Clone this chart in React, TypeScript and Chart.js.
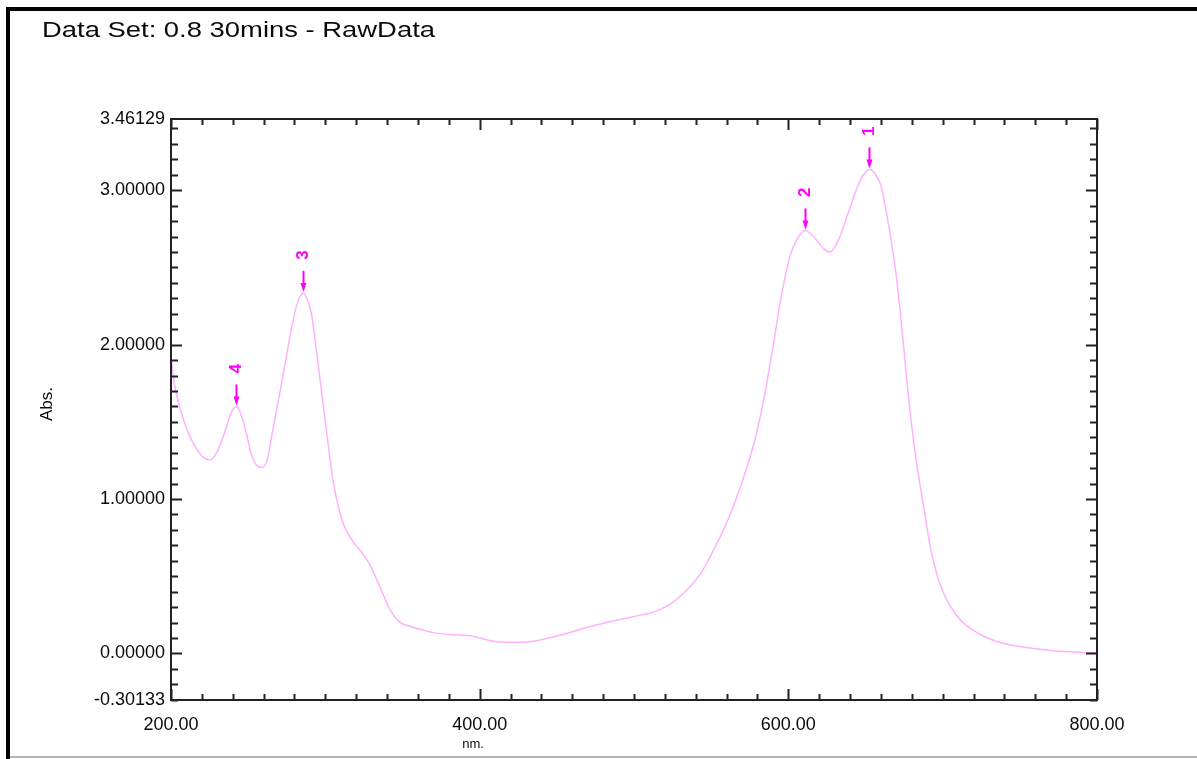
import React, { useEffect, useRef } from 'react';
import { Chart, registerables } from 'chart.js';

Chart.register(...registerables);

// ---- data ----
const titleText = 'Data Set: 0.8 30mins - RawData';
const xAxisTitle = 'nm.';
const yAxisTitle = 'Abs.';

const wavelengths = [
  200, 202, 205, 209, 213, 217, 221, 225, 229, 233, 236, 239, 242.5, 246, 249, 252, 255, 258.3,
  262, 266, 270, 274, 278, 281, 283.5, 285.5, 288, 291, 295, 300, 305, 308, 311.5, 315, 319, 324,
  329, 333.5, 338, 342, 348, 355, 362, 370, 380, 394, 402, 410, 420, 433, 445, 457, 470, 489, 500,
  510, 518, 525, 531, 537, 544, 551, 558, 565, 573, 579, 584, 590, 595, 601, 605.5, 611, 618, 623, 627, 633, 638,
  644, 648, 652.5, 656, 660, 664, 667, 670.5, 674, 677, 680, 683.5, 688, 692, 695, 698, 702, 706, 710, 715, 720,
  727, 735, 750, 770, 790, 800,
];
const absorbance = [
  1.92, 1.76, 1.62, 1.49, 1.39, 1.32, 1.27, 1.253, 1.29, 1.38, 1.47, 1.56, 1.6, 1.53, 1.42, 1.29, 1.225, 1.205,
  1.24, 1.45, 1.66, 1.88, 2.1, 2.24, 2.31, 2.335, 2.3, 2.2, 1.9, 1.5, 1.12, 0.97, 0.845, 0.77, 0.71, 0.65,
  0.57, 0.475, 0.37, 0.28, 0.205, 0.175, 0.155, 0.135, 0.123, 0.115, 0.095, 0.077, 0.072, 0.076, 0.1, 0.132, 0.17, 0.216, 0.24,
  0.26, 0.29, 0.33, 0.38, 0.44, 0.53, 0.66, 0.8, 0.97, 1.2, 1.41, 1.64, 1.98, 2.29, 2.57, 2.68, 2.74, 2.68, 2.62, 2.6, 2.69, 2.83,
  3.0, 3.09, 3.135, 3.11, 3.03, 2.83, 2.65, 2.4, 2.06, 1.75, 1.47, 1.21, 0.93, 0.69, 0.56, 0.455, 0.36, 0.29, 0.235, 0.185, 0.15,
  0.11, 0.078, 0.045, 0.02, 0.007, 0.004,
];

const peakLabels = ['1', '2', '3', '4'];
const peakNm = [652.3, 610.8, 285.3, 242.4];
const peakAbs = [3.135, 2.74, 2.335, 1.6];

const xMin = 200;
const xMax = 800;
const xLabelTicks = [200, 400, 600, 800];
const xMinorStep = 20;
const yMin = -0.30133;
const yMax = 3.46129;
const yLabelTicks = [-0.30133, 0, 1, 2, 3, 3.46129];
const yMinorStep = 0.1;

const FONT = '"Liberation Sans", Arial, Helvetica, sans-serif';
const AXIS_COLOR = '#222222';
const TEXT_COLOR = '#0a0a0a';
const PEAK_COLOR = '#ff00ff';
const LINE_COLOR = '#ffb0ff';

const decorPlugin = {
  id: 'decor',
  beforeDraw(chart: any) {
    const { ctx, width, height } = chart;
    ctx.save();
    ctx.fillStyle = '#ffffff';
    ctx.fillRect(0, 0, width, height);
    ctx.restore();
  },
  afterDraw(chart: any) {
    const { ctx, chartArea } = chart;
    const { left, right, top, bottom } = chartArea;
    const xs = chart.scales.x;
    const ys = chart.scales.y;
    ctx.save();

    // outer window frame
    ctx.fillStyle = '#000000';
    ctx.fillRect(6, 7, chart.width - 6, 4);
    ctx.fillRect(6, 7, 4, chart.height - 7);
    ctx.fillStyle = '#b4b4b4';
    ctx.fillRect(10, 756, chart.width - 10, 2);

    // title (stretched to the reference's width)
    ctx.fillStyle = TEXT_COLOR;
    ctx.font = `22px ${FONT}`;
    ctx.textAlign = 'left';
    ctx.textBaseline = 'alphabetic';
    const tw = ctx.measureText(titleText).width;
    ctx.save();
    ctx.translate(42, 37);
    ctx.scale(393 / tw, 1);
    ctx.fillText(titleText, 0, 0);
    ctx.restore();

    // plot box
    ctx.strokeStyle = AXIS_COLOR;
    ctx.lineWidth = 2;
    ctx.strokeRect(left, top, right - left, bottom - top);

    // inward tick marks
    ctx.beginPath();
    const nx = Math.round((xMax - xMin) / xMinorStep);
    for (let i = 0; i <= nx; i++) {
      const v = xMin + i * xMinorStep;
      const px = Math.round(xs.getPixelForValue(v)) + 0.5;
      const major = xLabelTicks.includes(v);
      const len = major ? 11 : 6;
      ctx.moveTo(px, bottom);
      ctx.lineTo(px, bottom - len);
      ctx.moveTo(px, top);
      ctx.lineTo(px, top + len);
    }
    const k0 = Math.ceil(yMin / yMinorStep - 1e-9);
    const k1 = Math.floor(yMax / yMinorStep + 1e-9);
    for (let k = k0; k <= k1; k++) {
      const v = k * yMinorStep;
      const py = Math.round(ys.getPixelForValue(v)) + 0.5;
      const major = k % 10 === 0;
      const len = major ? 11 : 7;
      ctx.moveTo(left, py);
      ctx.lineTo(left + len, py);
      ctx.moveTo(right, py);
      ctx.lineTo(right - len, py);
    }
    ctx.lineWidth = 2;
    ctx.stroke();

    // axis titles
    ctx.fillStyle = TEXT_COLOR;
    ctx.font = `13px ${FONT}`;
    ctx.textAlign = 'center';
    ctx.textBaseline = 'middle';
    ctx.fillText(xAxisTitle, 473, 744);
    ctx.save();
    ctx.translate(47, 404);
    ctx.rotate(-Math.PI / 2);
    ctx.font = `17px ${FONT}`;
    ctx.fillText(yAxisTitle, 0, 0);
    ctx.restore();

    // peak markers
    ctx.strokeStyle = PEAK_COLOR;
    ctx.fillStyle = PEAK_COLOR;
    for (let i = 0; i < peakLabels.length; i++) {
      const px = Math.round(xs.getPixelForValue(peakNm[i])) + 0.5;
      const py = ys.getPixelForValue(peakAbs[i]);
      ctx.lineWidth = 2;
      ctx.beginPath();
      ctx.moveTo(px, py - 22);
      ctx.lineTo(px, py - 4);
      ctx.stroke();
      ctx.beginPath();
      ctx.moveTo(px - 3, py - 10);
      ctx.lineTo(px + 3, py - 10);
      ctx.lineTo(px, py - 1);
      ctx.closePath();
      ctx.fill();
      ctx.save();
      ctx.translate(px, py - 38);
      ctx.rotate(-Math.PI / 2);
      ctx.font = `bold 17px ${FONT}`;
      ctx.textAlign = 'center';
      ctx.textBaseline = 'middle';
      ctx.fillText(peakLabels[i], 0, 0);
      ctx.restore();
    }

    ctx.restore();
  },
};

export default function App() {
  const ref = useRef<HTMLCanvasElement>(null);
  useEffect(() => {
    document.body.style.margin = '0';
    const points = wavelengths.map((w, i) => ({ x: w, y: absorbance[i] }));
    const chart = new Chart(ref.current as HTMLCanvasElement, {
      type: 'line',
      data: {
        datasets: [
          {
            data: points,
            borderColor: LINE_COLOR,
            borderWidth: 1.5,
            pointRadius: 0,
            fill: false,
            cubicInterpolationMode: 'monotone',
          },
        ],
      },
      options: {
        responsive: false,
        animation: false,
        devicePixelRatio: 1,
        layout: { padding: { top: 119, right: 100, left: 0, bottom: 0 } },
        plugins: { legend: { display: false }, tooltip: { enabled: false }, title: { display: false } },
        scales: {
          x: {
            type: 'linear',
            min: xMin,
            max: xMax,
            afterBuildTicks: (s: any) => {
              s.ticks = xLabelTicks.map((v) => ({ value: v }));
            },
            afterFit: (s: any) => {
              s.height = 59;
            },
            ticks: {
              autoSkip: false,
              maxRotation: 0,
              padding: 14,
              color: TEXT_COLOR,
              font: { family: FONT, size: 18 },
              callback: (v: any) => Number(v).toFixed(2),
            },
            grid: { display: false, drawTicks: false },
            border: { display: false },
          },
          y: {
            type: 'linear',
            min: yMin,
            max: yMax,
            afterBuildTicks: (s: any) => {
              s.ticks = yLabelTicks.map((v) => ({ value: v }));
            },
            afterFit: (s: any) => {
              s.width = 171;
            },
            ticks: {
              autoSkip: false,
              padding: 6,
              color: TEXT_COLOR,
              font: { family: FONT, size: 18 },
              callback: (v: any) => Number(v).toFixed(5),
            },
            grid: { display: false, drawTicks: false },
            border: { display: false },
          },
        },
      },
      plugins: [decorPlugin],
    } as any);
    return () => chart.destroy();
  }, []);
  return (
    <div style={{ position: 'absolute', left: 0, top: 0, width: 1197, height: 759, background: '#fff' }}>
      <canvas ref={ref} width={1197} height={759} style={{ display: 'block', width: 1197, height: 759 }} />
    </div>
  );
}
